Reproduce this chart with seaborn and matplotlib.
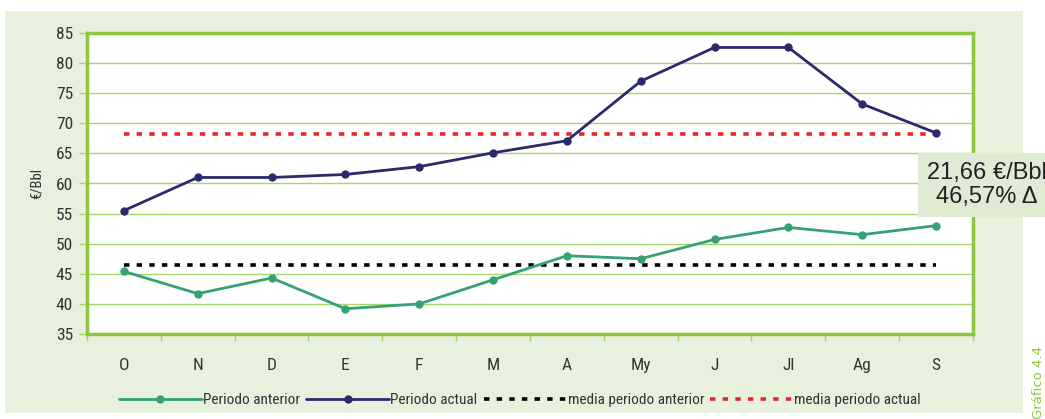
import numpy as np
import pandas as pd
import matplotlib
matplotlib.use("Agg")
import matplotlib.pyplot as plt
import seaborn as sns
from matplotlib.patches import Rectangle
from matplotlib.lines import Line2D
from matplotlib import font_manager

# ---- data ----
MESES = ["O", "N", "D", "E", "F", "M", "A", "My", "J", "Jl", "Ag", "S"]
PERIODO_ANTERIOR = [45.4, 41.7, 44.3, 39.2, 40.0, 44.0, 48.0, 47.5, 50.7, 52.7, 51.5, 53.0]
PERIODO_ACTUAL = [55.5, 61.0, 61.0, 61.5, 62.8, 65.1, 67.1, 77.0, 82.6, 82.6, 73.2, 68.4]
MEDIA_ANTERIOR = 46.5
MEDIA_ACTUAL = 68.2
Y_TICKS = [35, 40, 45, 50, 55, 60, 65, 70, 75, 80, 85]
NOTA = "21,66 €/Bbl\n46,57% Δ"

# ---- style ----
BG_GREEN = "#E8F1DE"
LIME = "#8DC63F"
GRID = "#A9D56F"
C_ANT = "#35A274"
C_ACT = "#2C2A6B"
C_RED = "#E8262A"
TXT = "#333333"

# narrow font if there is one
names = {f.name for f in font_manager.fontManager.ttflist}
narrow = [n for n in ["Liberation Sans Narrow", "Roboto Condensed", "Open Sans Condensed"] if n in names]
COND = narrow + ["DejaVu Sans"]

sns.set_theme(style="white")
plt.rcParams["font.family"] = COND
plt.rcParams["font.stretch"] = "condensed"

df = pd.DataFrame({
    "pos": np.arange(len(MESES)),
    "mes": MESES,
    "anterior": PERIODO_ANTERIOR,
    "actual": PERIODO_ACTUAL,
})

fig = plt.figure(figsize=(10.45, 4.19), dpi=100)
fig.patch.set_facecolor("white")
fig.patches.append(Rectangle((5 / 1045, 1 - 413 / 419), 1018 / 1045, 402 / 419,
                             transform=fig.transFigure, facecolor=BG_GREEN,
                             edgecolor="none", zorder=-5))

ax = fig.add_axes([87 / 1045, 1 - 334 / 419, 886 / 1045, 301 / 419])
ax.set_facecolor("white")

sns.lineplot(data=df, x="pos", y="anterior", color=C_ANT, lw=2, marker="o",
             markersize=6, markeredgewidth=0, ax=ax, zorder=4)
sns.lineplot(data=df, x="pos", y="actual", color=C_ACT, lw=2, marker="o",
             markersize=6, markeredgewidth=0, ax=ax, zorder=4)
ax.plot([df.pos.iloc[0], df.pos.iloc[-1]], [MEDIA_ANTERIOR] * 2, color="black",
        lw=2.6, dashes=(1.5, 2.0), zorder=3)
ax.plot([df.pos.iloc[0], df.pos.iloc[-1]], [MEDIA_ACTUAL] * 2, color=C_RED,
        lw=2.6, dashes=(1.5, 2.0), zorder=3)

ax.set_xlim(-0.5, len(MESES) - 0.5)
ax.set_ylim(Y_TICKS[0], Y_TICKS[-1])
ax.set_yticks(Y_TICKS)
ax.set_xticks(df.pos)
ax.set_xticklabels(MESES)
ax.set_xticks(np.arange(len(MESES) + 1) - 0.5, minor=True)
ax.yaxis.grid(True, color=GRID, lw=1)
ax.set_axisbelow(True)
for s in ax.spines.values():
    s.set_color(LIME)
    s.set_linewidth(2.5)
ax.tick_params(axis="y", length=6, width=1, color=GRID, left=True,
               labelsize=12.5, labelcolor=TXT, pad=4)
ax.tick_params(axis="x", which="major", length=0, pad=17, labelsize=12.5, labelcolor=TXT)
ax.tick_params(axis="x", which="minor", length=5, width=1, color=GRID, bottom=True)
ax.set_xlabel("")
ax.set_ylabel("€/Bbl", fontsize=10.5, color=TXT, labelpad=9)

# note box
fig.text(987 / 1045, 1 - 185 / 419, NOTA, ha="center", va="center", fontsize=17,
         color="#222222", family="Liberation Sans", stretch="normal", linespacing=1.1,
         bbox=dict(boxstyle="square,pad=0.4", facecolor="#DFEBD3", edgecolor="none"),
         zorder=10)

# legend
handles = [
    Line2D([0], [0], color=C_ANT, lw=2, marker="o", markersize=5),
    Line2D([0], [0], color=C_ACT, lw=2, marker="o", markersize=5),
    Line2D([0], [0], color="black", lw=2.6, dashes=(1.5, 2.0)),
    Line2D([0], [0], color=C_RED, lw=2.6, dashes=(1.5, 2.0)),
]
labels = ["Periodo anterior", "Periodo actual", "media periodo anterior", "media periodo actual"]
fig.legend(handles, labels, loc="center", bbox_to_anchor=(520 / 1045, 1 - 400 / 419),
           ncol=4, frameon=False, fontsize=11, handlelength=5.4, handletextpad=0.1,
           columnspacing=0.4, labelcolor=TXT)

fig.text(1038 / 1045, 1 - 382 / 419, "Gráfico 4.4", rotation=90, ha="center",
         va="center", fontsize=9.5, color=LIME, family="DejaVu Sans", stretch="normal")

fig.savefig("out.png", dpi=100)
